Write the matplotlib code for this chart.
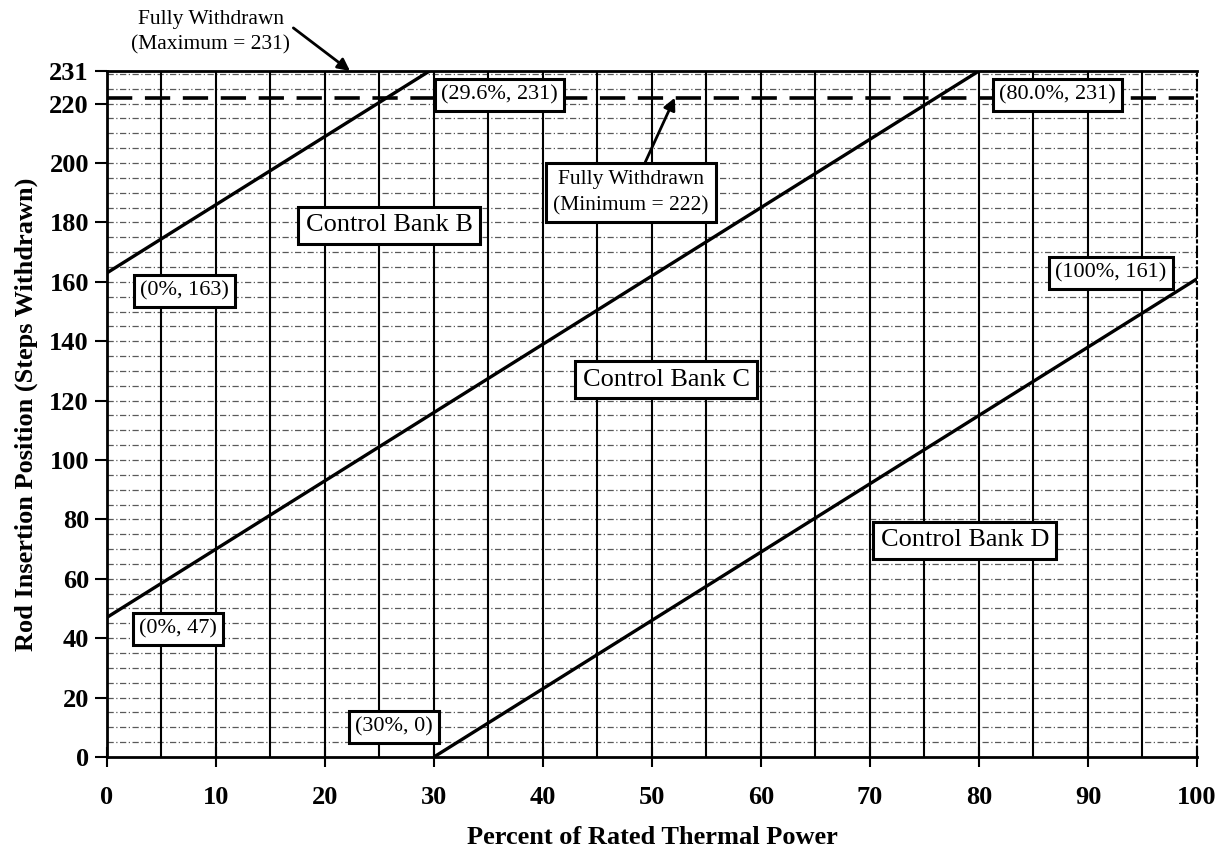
import matplotlib
matplotlib.use("Agg")
import matplotlib.pyplot as plt
import numpy as np

# ---- data ----
bank_names = ["Control Bank B", "Control Bank C", "Control Bank D"]
bank_x = [[0.0, 29.6], [0.0, 80.0], [30.0, 100.0]]
bank_y = [[163, 231], [47, 231], [0, 161]]
fully_withdrawn_min = 222
fully_withdrawn_max = 231
point_labels = ["(0%, 163)", "(29.6%, 231)", "(0%, 47)", "(80.0%, 231)", "(30%, 0)", "(100%, 161)"]
point_label_pos = [(7.1, 157), (36.0, 223), (6.5, 43), (87.2, 223), (26.3, 10), (92.1, 163)]
bank_label_pos = [(25.9, 179), (51.3, 127), (78.7, 73)]
x_ticks = [0, 10, 20, 30, 40, 50, 60, 70, 80, 90, 100]
y_ticks = [0, 20, 40, 60, 80, 100, 120, 140, 160, 180, 200, 220, 231]

plt.rcParams['font.family'] = ['Liberation Serif', 'DejaVu Serif']

fig = plt.figure(figsize=(12.21, 8.51), dpi=100)
ax = fig.add_axes([0.0876, 0.1105, 0.8927, 0.8061])
ax.set_xlim(0, 100)
ax.set_ylim(0, 231)

# grid
for yv in np.arange(5, 231, 5):
    ax.axhline(yv, color='black', lw=0.9, ls=(0, (5, 2, 1, 2)), alpha=0.65, zorder=1)
for xv in np.arange(5, 100, 5):
    ax.axvline(xv, color='black', lw=1.5, zorder=1)

# fully withdrawn minimum line
ax.axhline(fully_withdrawn_min, color='black', lw=2.6, ls=(0, (7, 3.5)), zorder=2)

# bank lines
for bx, by in zip(bank_x, bank_y):
    ax.plot(bx, by, color='black', lw=2.4, zorder=3, solid_capstyle='butt')

box = dict(boxstyle='square,pad=0.28', fc='white', ec='black', lw=2.2)
for txt, (px, py) in zip(point_labels, point_label_pos):
    ax.text(px, py, txt, ha='center', va='center', fontsize=16, bbox=box, zorder=5)
for txt, (px, py) in zip(bank_names, bank_label_pos):
    ax.text(px, py, txt, ha='center', va='center', fontsize=19, bbox=box, zorder=5)

# annotations
ax.annotate("Fully Withdrawn\n(Minimum = 222)", xy=(52.1, 222), xytext=(48.1, 190),
            ha='center', va='center', fontsize=15.5, linespacing=1.45,
            bbox=dict(boxstyle='square,pad=0.33', fc='white', ec='black', lw=2.2),
            arrowprops=dict(arrowstyle='-|>', color='black', lw=2, mutation_scale=18,
                            shrinkA=0, shrinkB=0), zorder=6)
ax.text(9.5, 244, "Fully Withdrawn\n(Maximum = 231)", ha='center', va='center',
        fontsize=15.5, linespacing=1.45, clip_on=False)
ax.annotate("", xy=(22.3, 231), xytext=(17.1, 245.5),
            arrowprops=dict(arrowstyle='-|>', color='black', lw=2, mutation_scale=18,
                            shrinkA=0, shrinkB=0), annotation_clip=False, zorder=6)

# axes styling
ax.set_xticks(x_ticks)
ax.set_yticks(y_ticks)
ax.set_xticklabels([str(v) for v in x_ticks], fontsize=19, fontweight='bold')
ax.set_yticklabels([str(v) for v in y_ticks], fontsize=19, fontweight='bold')
ax.tick_params(axis='y', direction='out', length=9, width=1.5, pad=4)
ax.tick_params(axis='x', direction='inout', length=14, width=1.5, pad=14)
for s in ['left', 'bottom', 'top']:
    ax.spines[s].set_linewidth(2)
ax.spines['right'].set_linewidth(1.5)
ax.spines['right'].set_linestyle((0, (5, 2, 1, 2)))
ax.set_xlabel("Percent of Rated Thermal Power", fontsize=19, fontweight='bold', labelpad=12)
ax.set_ylabel("Rod Insertion Position (Steps Withdrawn)", fontsize=19, fontweight='bold', labelpad=8)

fig.savefig("out.png", dpi=100)
